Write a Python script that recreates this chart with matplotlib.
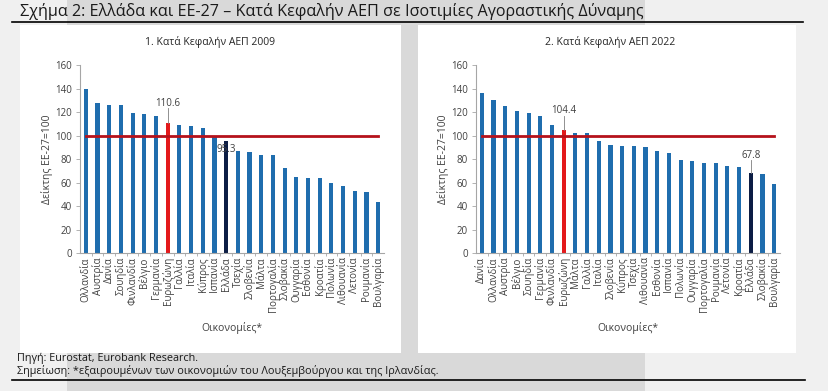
import matplotlib
matplotlib.use("Agg")
import matplotlib.pyplot as plt
from matplotlib.patches import Rectangle
from matplotlib.lines import Line2D

plt.rcParams['font.family'] = ['Open Sans', 'DejaVu Sans']

# ---------------- data ----------------
countries_2009 = ["Ολλανδία", "Αυστρία", "Δανία", "Σουηδία", "Φινλανδία", "Βέλγιο",
                  "Γερμανία", "Ευρωζώνη", "Γαλλία", "Ιταλία", "Κύπρος", "Ισπανία",
                  "Ελλάδα", "Τσεχία", "Σλοβενία", "Μάλτα", "Πορτογαλία", "Σλοβακία",
                  "Ουγγαρία", "Εσθονία", "Κροατία", "Πολωνία", "Λιθουανία", "Λετονία",
                  "Ρουμανία", "Βουλγαρία"]
values_2009 = [140, 128, 126, 126, 119, 118, 117, 110.6, 109, 108, 106, 100,
               95.3, 87, 86, 83, 83, 72, 65, 64, 64, 60, 57, 53, 52, 43]

countries_2022 = ["Δανία", "Ολλανδία", "Αυστρία", "Βέλγιο", "Σουηδία", "Γερμανία",
                  "Φινλανδία", "Ευρωζώνη", "Μάλτα", "Γαλλία", "Ιταλία", "Σλοβενία",
                  "Κύπρος", "Τσεχία", "Λιθουανία", "Εσθονία", "Ισπανία", "Πολωνία",
                  "Ουγγαρία", "Πορτογαλία", "Ρουμανία", "Λετονία", "Κροατία", "Ελλάδα",
                  "Σλοβακία", "Βουλγαρία"]
values_2022 = [136, 130, 125, 121, 119, 117, 109, 104.4, 102, 102, 95, 92,
               91, 91, 90, 87, 85, 79, 78, 77, 77, 74, 73, 67.8, 67, 59]

eu_level = 100
y_ticks = [0, 20, 40, 60, 80, 100, 120, 140, 160]

# ---------------- figure ----------------
W, H = 829, 391
fig = plt.figure(figsize=(W / 100, H / 100), dpi=100)
fig.patch.set_facecolor("#f0f0f0")


def px_rect(x0, y0, x1, y1, color):
    fig.add_artist(Rectangle((x0 / W, 1 - y1 / H), (x1 - x0) / W, (y1 - y0) / H,
                             transform=fig.transFigure, facecolor=color,
                             edgecolor="none", zorder=0))


def px_line(x0, x1, y, lw=1.0):
    fig.add_artist(Line2D([x0 / W, x1 / W], [1 - y / H, 1 - y / H],
                          transform=fig.transFigure, color="black", lw=lw, zorder=1))


def px_text(x, y, s, **kw):
    fig.text(x / W, 1 - y / H, s, **kw)


px_rect(67, 0, 645, H, "#d9d9d9")
px_rect(20, 25, 401, 353, "white")
px_rect(418, 25, 796, 353, "white")
px_line(12, 803, 22, 1.2)
px_line(12, 805, 380, 1.2)

px_text(20, 12, "Σχήμα 2: Ελλάδα και ΕΕ-27 – Κατά Κεφαλήν ΑΕΠ σε Ισοτιμίες Αγοραστικής Δύναμης",
        fontsize=11.6, color="#1a1a1a", ha="left", va="center")
px_text(17, 358, "Πηγή: Eurostat, Eurobank Research.", fontsize=7.8, color="#1a1a1a",
        ha="left", va="center")
px_text(17, 371, "Σημείωση: *εξαιρουμένων των οικονομιών του Λουξεμβούργου και της Ιρλανδίας.",
        fontsize=7.8, color="#1a1a1a", ha="left", va="center")

BLUE = "#1f6dae"
RED = "#e3191b"
NAVY = "#0c1d45"
LINE_RED = "#b5121b"
GRAY_TXT = "#404040"


def draw_panel(left_px, title, title_x, cats, vals, notes):
    ax = fig.add_axes([left_px / W, 1 - 253 / H, 304 / W, 188 / H])
    ax.set_facecolor("none")
    x = list(range(len(cats)))
    colors = []
    for c in cats:
        if c == "Ευρωζώνη":
            colors.append(RED)
        elif c == "Ελλάδα":
            colors.append(NAVY)
        else:
            colors.append(BLUE)
    ax.bar(x, vals, width=0.35, color=colors, zorder=2)
    ax.plot([0, len(cats) - 1], [eu_level, eu_level], color=LINE_RED, lw=2.0, zorder=3)
    ax.set_xlim(-0.5, len(cats) - 0.5)
    ax.set_ylim(0, 160)
    ax.set_yticks(y_ticks)
    ax.set_xticks(x)
    ax.set_xticklabels(cats, rotation=90, fontsize=7, color=GRAY_TXT)
    ax.tick_params(axis="y", labelsize=7, colors=GRAY_TXT, length=3, width=0.6,
                   color="#a6a6a6", pad=3)
    ax.tick_params(axis="x", length=0, pad=3)
    ax.set_xticks([i + 0.5 for i in range(len(cats) - 1)], minor=True)
    ax.tick_params(axis="x", which="minor", length=2.5, width=0.6, color="#a6a6a6")
    for s in ["top", "right"]:
        ax.spines[s].set_visible(False)
    for s in ["left", "bottom"]:
        ax.spines[s].set_color("#a6a6a6")
        ax.spines[s].set_linewidth(0.8)
    ax.set_ylabel("Δείκτης ΕΕ-27=100", fontsize=7.5, color=GRAY_TXT, labelpad=1)
    ax.set_xlabel("Οικονομίες*", fontsize=7.5, color=GRAY_TXT, labelpad=7)
    px_text(title_x, 42, title, fontsize=7.5, color="#262626", ha="center", va="center")
    for name, ytxt, leader in notes:
        i = cats.index(name)
        v = vals[i]
        ax.text(i, ytxt, f"{v:.1f}", fontsize=7, color=GRAY_TXT, ha="center",
                va="center", zorder=4)
        if leader:
            ax.plot([i, i], [v, ytxt - 4], color="#7f7f7f", lw=0.6, zorder=4)
    return ax


draw_panel(80, "1. Κατά Κεφαλήν ΑΕΠ 2009", 210, countries_2009, values_2009,
           [("Ευρωζώνη", 127, True), ("Ελλάδα", 88, False)])
draw_panel(476, "2. Κατά Κεφαλήν ΑΕΠ 2022", 610, countries_2022, values_2022,
           [("Ευρωζώνη", 121, True), ("Ελλάδα", 83, True)])

fig.savefig("out.png", dpi=100, facecolor=fig.get_facecolor())
